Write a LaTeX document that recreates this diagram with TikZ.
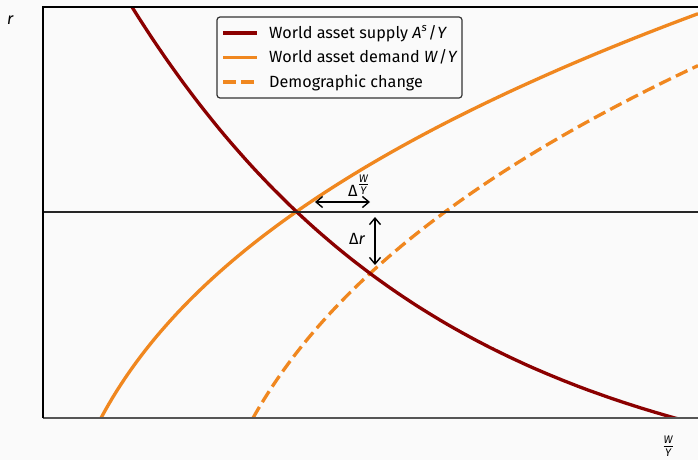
\documentclass[tikz,border=0pt]{standalone}
\usepackage{fontspec}
\setmainfont{Fira Sans}
\usetikzlibrary{arrows.meta}
\definecolor{bg}{HTML}{FAFAFA}
\definecolor{supplyc}{HTML}{8B0000}
\definecolor{demandc}{HTML}{F0871F}
\definecolor{axisgray}{HTML}{555555}
\definecolor{legedge}{HTML}{333333}
\newcommand\smallit[1]{\mbox{\fontsize{11}{12}\selectfont\itshape #1}}
\newcommand\wyfrac{$\frac{\smallit{W}}{\smallit{Y}}$}
\begin{document}
\begin{tikzpicture}[x=1pt,y=-1pt, font=\fontsize{16.2}{19}\selectfont,
  supply/.style={draw=supplyc, line width=3.3pt},
  demand/.style={draw=demandc, line width=3.3pt},
  demog/.style={demand, dash pattern=on 12.8pt off 5.6pt},
  dbl/.style={{Straight Barb[length=6.5pt,width=11pt]}-{Straight Barb[length=6.5pt,width=11pt]}, line width=1.4pt, black},
  lbl/.style={inner sep=0pt, anchor=base west}]
\fill[bg] (0,0) rectangle (698,460);
\useasboundingbox (0,0) rectangle (698,460);

% curves, clipped to the axes
\begin{scope}
  \clip (43,7) rectangle (698,418);
  \draw[demand] plot[domain=101:698, samples=150] (\x, {418-84*(pow(\x-43,1/3)-3.871)});
  \draw[demog] plot[domain=253:698, samples=150] (\x, {418-90.5*(pow(\x-183,1/3)-4.121)});
  \draw[supply] plot[domain=128:682, samples=150] (\x, {418-(662.6*exp(-0.00322*(\x-43))-86.6)});
\end{scope}

% axes
\draw[black!85, line width=1.6pt] (43,212) -- (698,212);
\draw[axisgray, line width=2pt] (43,418) -- (698,418);
\draw[black, line width=1.2pt] (43,418) -- (43,7) -- (698,7);

% arrows
\coordinate (hl) at (315,202);
\coordinate (hr) at (370,202);
\coordinate (vt) at (375,217);
\coordinate (vb) at (375,265);
\draw[dbl] (hl) -- (hr);
\draw[dbl] (vt) -- (vb);

% labels
\node[lbl] (dwy) at (348,196) {Δ\raisebox{7pt}{\wyfrac}};
\node[lbl] (dr) at (349,244) {Δ\textit{r}};
\node[lbl] (ylab) at (7,25) {\textit{r}};
\node[inner sep=0pt] (xlab) at (668,446) {\wyfrac};

% legend
\draw[legedge, line width=1.2pt, fill=bg, rounded corners=3pt] (217,17) rectangle (462,98);
\coordinate (l1a) at (223,33); \coordinate (l1b) at (257,33);
\coordinate (l2a) at (223,57.5); \coordinate (l2b) at (257,57.5);
\coordinate (l3a) at (223,82); \coordinate (l3b) at (257,82);
\draw[supply] (l1a) -- (l1b);
\draw[demand] (l2a) -- (l2b);
\draw[demog] (l3a) -- (l3b);
\node[lbl] (t1) at (269,38) {World asset supply \textit{A}\textsuperscript{\itshape s}\kern1pt/\kern0.5pt\textit{Y}};
\node[lbl] (t2) at (269,62.5) {World asset demand \textit{W}\kern1pt/\kern0.5pt\textit{Y}};
\node[lbl] (t3) at (269,87) {Demographic change};
\end{tikzpicture}
\end{document}
